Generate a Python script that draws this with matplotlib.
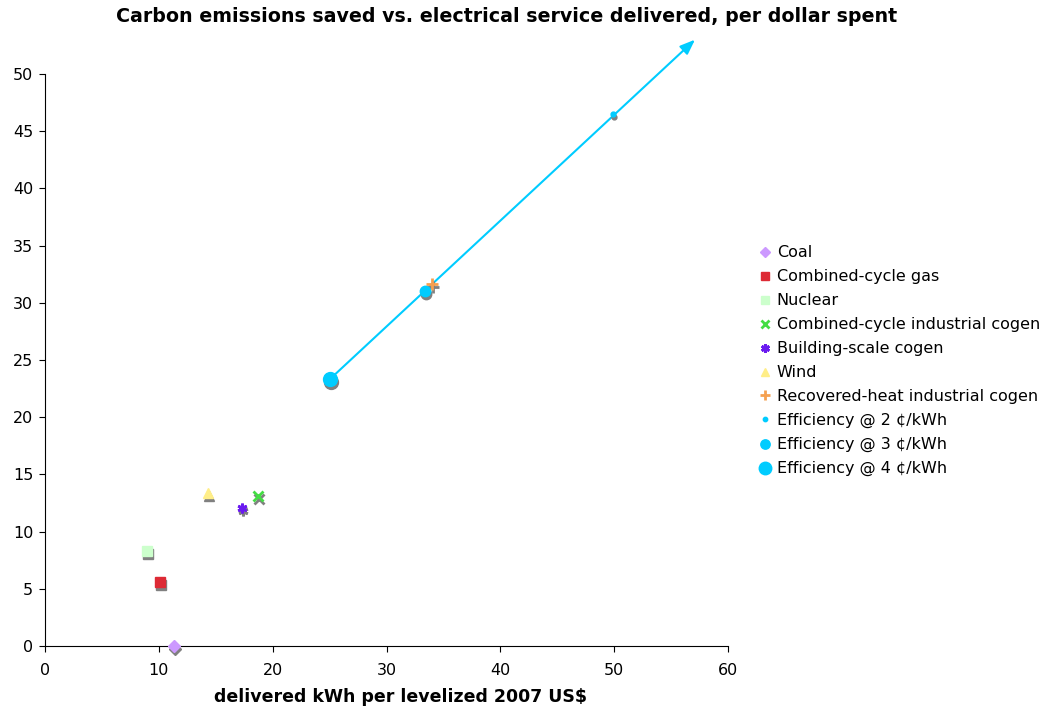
import matplotlib
matplotlib.use("Agg")
import matplotlib.pyplot as plt
import matplotlib.transforms as mtransforms

names = ["Coal", "Combined-cycle gas", "Nuclear", "Combined-cycle industrial cogen",
         "Building-scale cogen", "Wind", "Recovered-heat industrial cogen",
         "Efficiency @ 2 \u00a2/kWh", "Efficiency @ 3 \u00a2/kWh", "Efficiency @ 4 \u00a2/kWh"]
x_vals = [11.3, 10.1, 9.0, 18.7, 17.3, 14.3, 34.0, 49.9, 33.4, 25.0]
y_vals = [0.0, 5.6, 8.3, 13.1, 12.1, 13.4, 31.6, 46.5, 31.0, 23.3]
arrow_end = (57.1, 53.0)

markers = ["D", "s", "s", "x", (6, 2, 0), "^", "+", "o", "o", "o"]
sizes = [6, 6.5, 6.5, 7, 7, 6.5, 8, 3.5, 7.5, 10]
colors = ["#CC99FF", "#DD2A35", "#CCFFCC", "#44DD44", "#6A1AF0", "#FFEE88",
          "#F5A050", "#00CCFF", "#00CCFF", "#00CCFF"]

plt.rcParams['font.family'] = ['DejaVu Sans']
fig = plt.figure(figsize=(10.44, 7.08), dpi=100)
ax = fig.add_axes([45/1044, (708-646)/708, (728-45)/1044, (646-74)/708])

ax.set_xlim(0, 60)
ax.set_ylim(0, 50)
ax.set_xticks(range(0, 61, 10))
ax.set_yticks(range(0, 51, 5))
for s in ["top", "right"]:
    ax.spines[s].set_visible(False)
ax.tick_params(direction="out", length=4, labelsize=11.5, colors="black")
ax.tick_params(axis="x", pad=8)
ax.tick_params(axis="y", pad=4.5)

# line with arrow
ax.annotate("", xy=arrow_end, xytext=(x_vals[-1], y_vals[-1]),
            arrowprops=dict(arrowstyle="-|>,head_length=0.9,head_width=0.35",
                            color="#00CCFF", lw=1.5, shrinkA=0, shrinkB=0),
            annotation_clip=False, zorder=2)

shadow = mtransforms.offset_copy(ax.transData, fig=fig, x=1, y=-3, units="dots")
for i in range(len(names)):
    mew = 2 if markers[i] in ("x", "+") or isinstance(markers[i], tuple) else 1
    ax.plot(x_vals[i], y_vals[i], linestyle="none", marker=markers[i], markersize=sizes[i],
            color="#808080", mec="#808080", mew=mew, transform=shadow, zorder=3, clip_on=False)
    ax.plot(x_vals[i], y_vals[i], linestyle="none", marker=markers[i], markersize=sizes[i],
            color=colors[i], mec=colors[i], mew=mew, label=names[i], zorder=4, clip_on=False)

leg = fig.legend(loc="upper left", bbox_to_anchor=(752/1044, 1-239/708), frameon=False,
                 fontsize=11.5, handlelength=0.8, handletextpad=0.35, labelspacing=0.56,
                 borderaxespad=0, markerscale=0.9)

fig.text(507/1044, 1-16/708, "Carbon emissions saved vs. electrical service delivered, per dollar spent",
         ha="center", va="center", fontsize=13.7, fontweight="bold")
fig.text(400/1044, 1-697/708, "delivered kWh per levelized 2007 US$",
         ha="center", va="center", fontsize=12.5, fontweight="bold")

fig.savefig("out.png", dpi=100)
